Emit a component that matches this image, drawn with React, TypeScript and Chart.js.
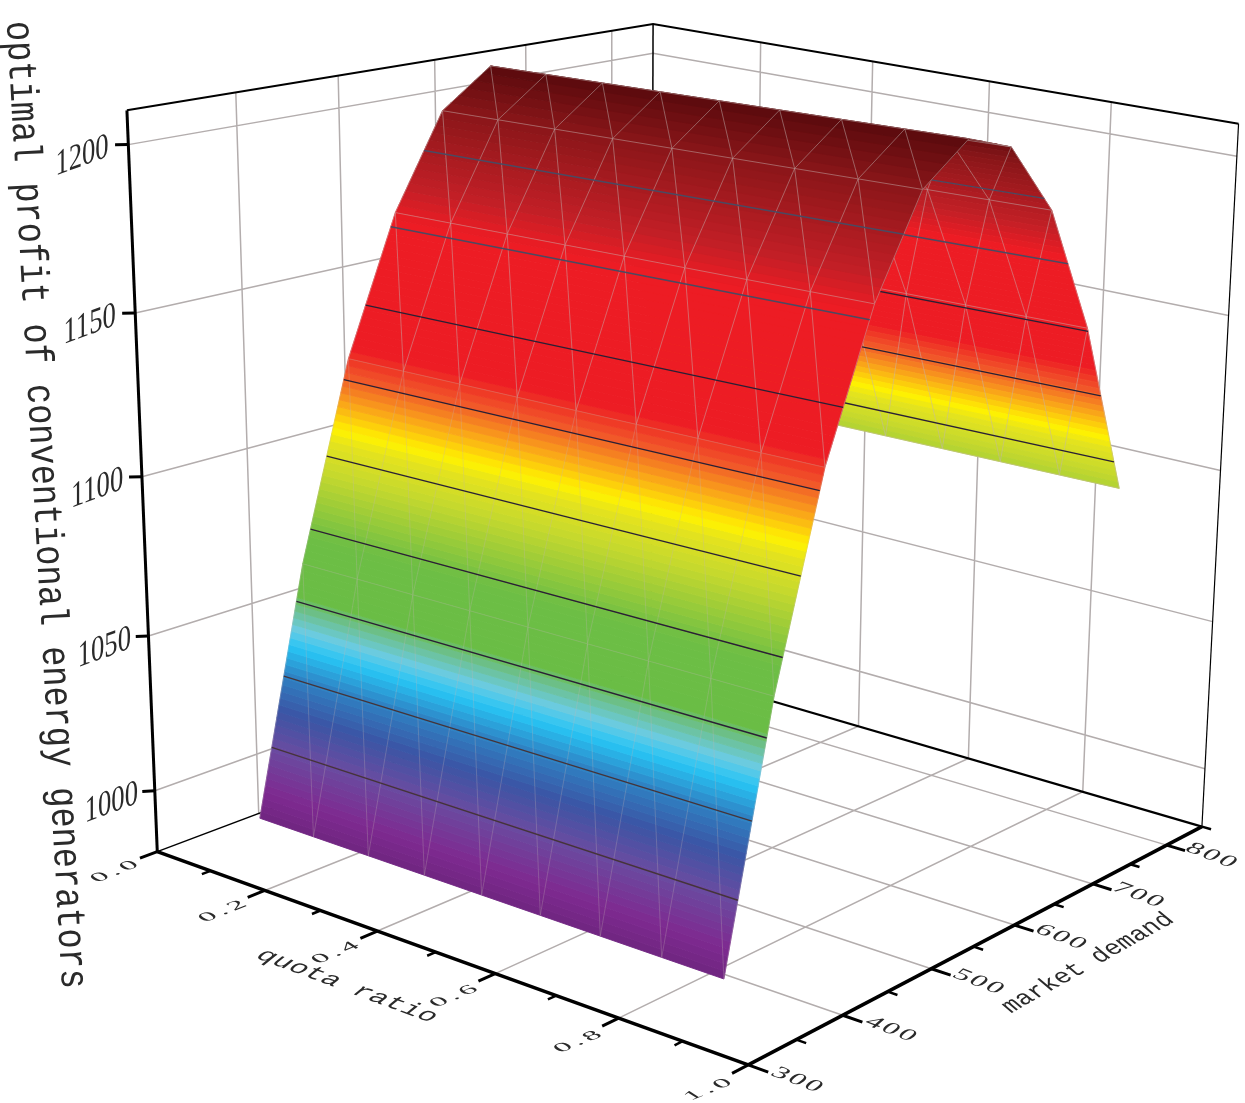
import { useEffect, useRef } from 'react';
import { Chart, registerables } from 'chart.js';

Chart.register(...registerables);

// ---- data ----
const quotaNodes = [0.195, 0.291, 0.387, 0.483, 0.579, 0.675, 0.771, 0.867, 0.962];
const demandRows = [300, 348, 397, 446, 495, 545, 594, 645, 695, 745];
const profitRows = [1003, 1078, 1137, 1178, 1206, 1217, 1212, 1191, 1153, 1100];
const contourLevels = [1024, 1045, 1067, 1088, 1109, 1131, 1152, 1174, 1195];
const quotaGain = 0.02; // rise of the upper surface from the low-quota to the high-quota side

const quotaMajor = [0, 0.2, 0.4, 0.6, 0.8, 1.0];
const quotaMinor = [0.1, 0.3, 0.5, 0.7, 0.9];
const quotaLabels = ['0.0', '0.2', '0.4', '0.6', '0.8', '1.0'];
const demandMajor = [300, 400, 500, 600, 700, 800];
const demandMinor = [350, 450, 550, 650, 750, 850];
const demandLabels = ['300', '400', '500', '600', '700', '800'];
const profitMajor = [1000, 1050, 1100, 1150, 1200];
const profitLabels = ['1000', '1050', '1100', '1150', '1200'];

const colourLevels = [1003, 1011, 1024, 1035, 1045, 1054, 1059, 1065, 1069, 1086, 1104, 1113, 1117, 1125, 1132, 1140, 1176, 1185, 1206, 1217];
const colourValues = ['#6f2580', '#7e2a90', '#6a4ba0', '#3b55a5', '#2f7fc1', '#27c4f4', '#6bcbe3', '#6cbf8a', '#6abd45', '#6dbe45', '#c4d82e', '#e4e31e', '#fff200', '#f9a01b', '#f15a29', '#ed1c24', '#ed1c24', '#c21f26', '#8a1619', '#5a0a0d'];

const QUOTA_MIN = 0, QUOTA_MAX = 1;
const DEMAND_MIN = 300, DEMAND_MAX = 850;
const PROFIT_MIN = 980, PROFIT_MAX = 1210;

// ---- view box (where the corners of the 3D box sit in the picture) ----
const boxCorners = [
  [0, 0, 0, 160, 852],
  [1, 0, 0, 743, 1068],
  [1, 1, 0, 1205, 820],
  [0, 1, 0, 650, 669],
  [0, 0, 1, 129, 107],
  [0, 1, 1, 650, 23],
  [1, 1, 1, 1240, 128],
];

function solveCamera() {
  const rows: number[][] = [];
  for (const [u, v, w, px, py] of boxCorners) {
    const x = px / 1000, y = py / 1000;
    rows.push([u, v, w, 1, 0, 0, 0, 0, -x * u, -x * v, -x * w, x]);
    rows.push([0, 0, 0, 0, u, v, w, 1, -y * u, -y * v, -y * w, y]);
  }
  const n = 11;
  const M: number[][] = [];
  for (let i = 0; i < n; i++) {
    const r = new Array(n + 1).fill(0);
    for (let j = 0; j <= n; j++) for (const e of rows) r[j] += e[i] * e[j];
    M.push(r);
  }
  for (let i = 0; i < n; i++) {
    let p = i;
    for (let k = i + 1; k < n; k++) if (Math.abs(M[k][i]) > Math.abs(M[p][i])) p = k;
    [M[i], M[p]] = [M[p], M[i]];
    for (let k = 0; k < n; k++) {
      if (k === i) continue;
      const f = M[k][i] / M[i][i];
      for (let j = i; j <= n; j++) M[k][j] -= f * M[i][j];
    }
  }
  return M.map((r, i) => r[n] / r[i]);
}
const cam = solveCamera();

function project(quota: number, demand: number, profit: number) {
  const u = (quota - QUOTA_MIN) / (QUOTA_MAX - QUOTA_MIN);
  const v = (demand - DEMAND_MIN) / (DEMAND_MAX - DEMAND_MIN);
  const w = (profit - PROFIT_MIN) / (PROFIT_MAX - PROFIT_MIN);
  const d = cam[8] * u + cam[9] * v + cam[10] * w + 1;
  return {
    x: (1000 * (cam[0] * u + cam[1] * v + cam[2] * w + cam[3])) / d,
    y: (1000 * (cam[4] * u + cam[5] * v + cam[6] * w + cam[7])) / d,
  };
}

// a surface point: the profit of a row, raised a little towards high quota
function surfacePoint(quota: number, demand: number, profit: number) {
  const qa = quotaNodes[0], qb = quotaNodes[quotaNodes.length - 1];
  const lift = (profit - profitRows[0]) * quotaGain * ((quota - qa) / (qb - qa));
  return project(quota, demand, profit + lift);
}

function hexRgb(h: string) {
  return [1, 3, 5].map((i) => parseInt(h.slice(i, i + 2), 16));
}
function colourAt(z: number) {
  let i = 0;
  while (i < colourLevels.length - 2 && z > colourLevels[i + 1]) i++;
  const t = Math.max(0, Math.min(1, (z - colourLevels[i]) / (colourLevels[i + 1] - colourLevels[i])));
  const a = hexRgb(colourValues[i]), b = hexRgb(colourValues[i + 1]);
  return `rgb(${a.map((c, k) => Math.round(c + (b[k] - c) * t)).join(',')})`;
}

const GAP = { x: NaN, y: NaN };
const GRID = '#b3adad';

function lineSet(data: any[], color: string, width: number) {
  return { data, borderColor: color, borderWidth: width, showLine: true, pointRadius: 0, clip: false, tension: 0 };
}

function buildDatasets() {
  const out: any[] = [];
  const Q0 = QUOTA_MIN, Q1 = QUOTA_MAX, D0 = DEMAND_MIN, D1 = DEMAND_MAX, Z0 = PROFIT_MIN, Z1 = PROFIT_MAX;

  // walls and floor grid
  const grid: any[] = [];
  for (const z of profitMajor) grid.push(project(Q0, D0, z), project(Q0, D1, z), project(Q1, D1, z), GAP);
  for (const d of demandMajor.slice(1)) grid.push(project(Q0, d, Z1), project(Q0, d, Z0), project(Q1, d, Z0), GAP);
  for (const q of quotaMajor.slice(1, 5)) grid.push(project(q, D1, Z1), project(q, D1, Z0), project(q, D0, Z0), GAP);
  out.push(lineSet(grid, GRID, 1.5));

  // box outline behind the surface
  out.push(lineSet([project(Q0, D0, Z1), project(Q0, D1, Z1), project(Q1, D1, Z1)], '#000', 2));
  out.push(lineSet([project(Q0, D1, Z1), project(Q0, D1, Z0)], '#000', 1.5));
  out.push(lineSet([project(Q1, D1, Z1), project(Q1, D1, Z0)], '#000', 1.2));
  out.push(lineSet([project(Q0, D0, Z0), project(Q0, D1, Z0)], '#000', 1.5));
  out.push(lineSet([project(Q0, D1, Z0), project(Q1, D1, Z0)], '#000', 2.2));

  // surface, far rows first
  const qa = quotaNodes[0], qb = quotaNodes[quotaNodes.length - 1];
  for (let r = demandRows.length - 2; r >= 0; r--) {
    const d0 = demandRows[r], d1 = demandRows[r + 1], z0 = profitRows[r], z1 = profitRows[r + 1];
    const n = Math.max(1, Math.ceil(Math.abs(z1 - z0) / 2));
    for (let k = 0; k < n; k++) {
      const t0 = k / n, t1 = (k + 1) / n;
      const da = d0 + (d1 - d0) * t0, db = d0 + (d1 - d0) * t1;
      const za = z0 + (z1 - z0) * t0, zb = z0 + (z1 - z0) * t1;
      const c = colourAt((za + zb) / 2);
      out.push({
        ...lineSet([surfacePoint(qa, da, za), surfacePoint(qb, da, za), surfacePoint(qb, db, zb), surfacePoint(qa, db, zb), surfacePoint(qa, da, za)], c, 0.9),
        polygonFill: c,
      });
    }
    // triangle mesh of this strip
    const mesh: any[] = [];
    quotaNodes.forEach((q, j) => {
      mesh.push(surfacePoint(q, d0, z0), surfacePoint(q, d1, z1), GAP);
      if (j < quotaNodes.length - 1) {
        mesh.push(surfacePoint(quotaNodes[j + 1], d0, z0), surfacePoint(q, d1, z1), GAP);
      }
    });
    mesh.push(surfacePoint(qa, d1, z1), surfacePoint(qb, d1, z1), GAP);
    const meshAlpha = Math.min(z0, z1) < 1100 ? 0.28 : 0.48;
    out.push(lineSet(mesh, `rgba(195,180,178,${meshAlpha})`, 1));
    // contour lines of this strip
    for (const L of contourLevels) {
      if ((L - z0) * (L - z1) < 0) {
        const d = d0 + ((d1 - d0) * (L - z0)) / (z1 - z0);
        const col = L >= 1170 ? '#4a4a62' : L <= 1045 ? '#45343a' : '#2a2035';
        out.push(lineSet([surfacePoint(qa, d, L), surfacePoint(qb, d, L)], col, 1.4));
      }
    }
  }

  // front axes and ticks
  out.push(lineSet([project(Q0, D0, Z0), project(Q0, D0, Z1)], '#000', 3));
  out.push(lineSet([project(Q0, D0, Z0), project(Q1, D0, Z0)], '#000', 3.5));
  out.push(lineSet([project(Q1, D0, Z0), project(Q1, D1, Z0)], '#000', 3.5));
  const ticks: any[] = [];
  const minor: any[] = [];
  for (const z of profitMajor) ticks.push(project(Q0, D0, z), project(Q0 - 0.0103, D0 - 0.0122 * 550, z), GAP);
  for (const q of quotaMajor) ticks.push(project(q, D0, Z0), project(q, D0 - 0.03 * 550, Z0), GAP);
  for (const d of demandMajor) ticks.push(project(Q1, d, Z0), project(Q1 + 0.03, d, Z0), GAP);
  for (const q of quotaMinor) minor.push(project(q, D0, Z0), project(q, D0 - 0.015 * 550, Z0), GAP);
  for (const d of demandMinor) minor.push(project(Q1, d, Z0), project(Q1 + 0.015, d, Z0), GAP);
  out.push(lineSet(ticks, '#000', 3));
  out.push(lineSet(minor, '#000', 2.5));

  return out.reverse();
}

type Label = { text: string; x: number; y: number; a: number[]; font: string; spacing: string };

// glyph basis: baseline direction, then glyph "down" direction
const ALONG_QUOTA = [1.02, 0.39, -0.55, 0.48];
const ALONG_DEMAND = [0.95, -0.38, 0.5, 0.32];
const SERIF = '"Liberation Serif"';
const MONO = '"Liberation Mono"';

function buildLabels(): Label[] {
  const out: Label[] = [];
  profitMajor.forEach((z, i) => {
    const p = project(QUOTA_MIN - 0.04, DEMAND_MIN - 0.048 * 550, z - 4.5);
    out.push({ text: profitLabels[i], x: p.x + 5, y: p.y - 4, a: [0.74, -0.27, 0, 1], font: `36px ${SERIF}`, spacing: '0px' });
  });
  quotaMajor.forEach((q, i) => {
    const p = project(q, DEMAND_MIN - 0.07 * 550, PROFIT_MIN);
    out.push({ text: quotaLabels[i], x: p.x, y: p.y + 4, a: ALONG_DEMAND, font: `30px ${SERIF}`, spacing: '4px' });
  });
  demandMajor.forEach((d, i) => {
    const p = project(QUOTA_MAX + 0.08, d, PROFIT_MIN);
    out.push({ text: demandLabels[i], x: p.x - 4, y: p.y - 4, a: ALONG_QUOTA, font: `28px ${SERIF}`, spacing: '2px' });
  });
  out.push({ text: 'quota ratio', x: 347, y: 986, a: [0.89, 0.33, -0.62, 0.5], font: `30px ${MONO}`, spacing: '0px' });
  out.push({ text: 'market demand', x: 1088, y: 963, a: [0.66, -0.37, 0.6, 0.5], font: `32px ${MONO}`, spacing: '0px' });
  out.push({
    text: 'optimal profit of conventional energy generators',
    x: 45,
    y: 505,
    a: [0.048, 0.84, -1, 0.048],
    font: `40px ${MONO}`,
    spacing: '0px',
  });
  return out;
}

const surfacePlugin = {
  id: 'surfacePolygons',
  beforeDatasetDraw(chart: any, args: any) {
    const ds = chart.data.datasets[args.index];
    if (!ds.polygonFill) return;
    const pts = args.meta.data;
    const ctx = chart.ctx;
    ctx.save();
    ctx.beginPath();
    pts.forEach((p: any, i: number) => (i ? ctx.lineTo(p.x, p.y) : ctx.moveTo(p.x, p.y)));
    ctx.closePath();
    ctx.fillStyle = ds.polygonFill;
    ctx.fill();
    ctx.restore();
  },
  afterDatasetsDraw(chart: any) {
    const ctx = chart.ctx;
    const sx = chart.scales.x, sy = chart.scales.y;
    for (const l of buildLabels()) {
      ctx.save();
      ctx.transform(l.a[0], l.a[1], l.a[2], l.a[3], sx.getPixelForValue(l.x), sy.getPixelForValue(l.y));
      ctx.font = l.font;
      ctx.letterSpacing = l.spacing;
      ctx.textAlign = 'center';
      ctx.textBaseline = 'middle';
      ctx.fillStyle = '#2a2a2a';
      ctx.fillText(l.text, 0, 0);
      ctx.restore();
    }
  },
};

export default function App() {
  const ref = useRef<HTMLCanvasElement>(null);
  useEffect(() => {
    const chart = new Chart(ref.current as HTMLCanvasElement, {
      type: 'scatter',
      data: { datasets: buildDatasets() },
      plugins: [surfacePlugin],
      options: {
        animation: false,
        responsive: false,
        devicePixelRatio: 1,
        events: [],
        layout: { padding: 0 },
        plugins: { legend: { display: false }, tooltip: { enabled: false } },
        scales: {
          x: { type: 'linear', display: false, min: 0, max: 1245 },
          y: { type: 'linear', display: false, min: 0, max: 1103, reverse: true },
        },
      },
    } as any);
    return () => chart.destroy();
  }, []);
  return (
    <div style={{ position: 'absolute', left: 0, top: 0, width: 1245, height: 1103, background: '#fff' }}>
      <canvas ref={ref} width={1245} height={1103} style={{ display: 'block' }} />
    </div>
  );
}
